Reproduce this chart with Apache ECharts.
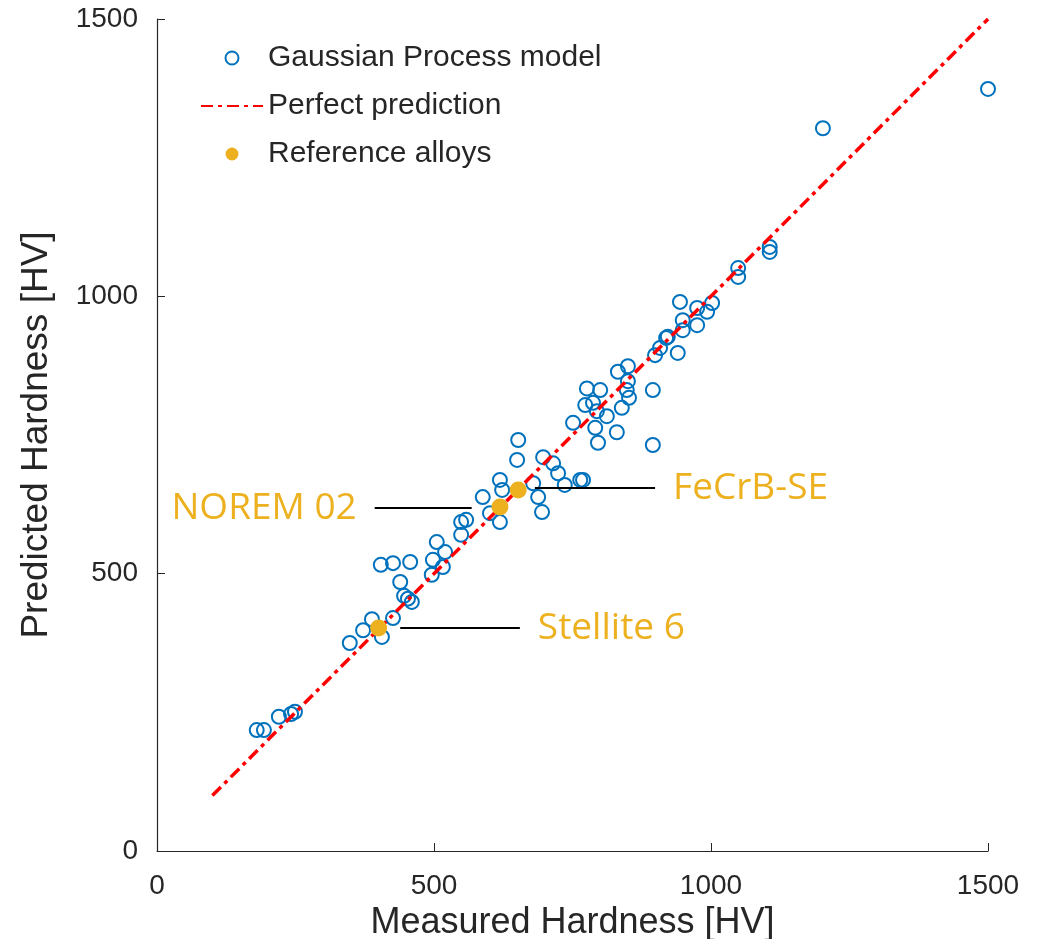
<!DOCTYPE html>
<html>
<head>
    <meta charset="utf-8">
    <title>Hardness</title>
    <script src="https://cdn.jsdelivr.net/npm/echarts@6/dist/echarts.min.js"></script>
    <style>
        html, body { margin: 0; padding: 0; background: #fff; }
    </style>
</head>
<body>
<div id="main" style="width:1047px; height:939px;"></div>

<script type="text/javascript">
    // Gaussian Process model: measured vs predicted hardness
    var measured = [180, 193, 220, 242, 249, 348, 372, 388, 406, 426,
        404, 426, 457, 439, 446, 460, 453, 498, 505, 520,
        496, 516, 549, 549, 558, 588, 601, 619, 619, 623,
        679, 688, 695, 652, 650, 697, 715, 724, 736, 764,
        769, 751, 791, 830, 796, 895, 776, 800, 895, 773,
        787, 794, 812, 839, 852, 848, 850, 850, 832, 908,
        899, 919, 922, 940, 944, 949, 949, 975, 975, 993,
        1002, 1049, 1049, 1106, 1106, 1202, 1500];
    var predicted = [218, 218, 242, 247, 251, 375, 398, 418, 386, 420,
        516, 519, 521, 485, 460, 449, 455, 525, 557, 539,
        498, 512, 570, 593, 597, 638, 609, 593, 669, 651,
        663, 638, 611, 741, 705, 710, 699, 681, 660, 669,
        669, 772, 763, 755, 736, 732, 834, 831, 831, 804,
        808, 793, 784, 799, 817, 831, 847, 874, 864, 907,
        894, 925, 927, 898, 990, 957, 939, 979, 948, 972,
        988, 1051, 1035, 1089, 1080, 1303, 1374];

    // perfect prediction line ends
    var perfectX = [100, 1500];
    var perfectY = [100, 1500];

    // reference alloys
    var refNames = ['Stellite 6', 'NOREM 02', 'FeCrB-SE'];
    var refX = [400, 619, 652];
    var refY = [402, 620, 651];

    // leader lines for the labels: x start, x end, y, label side
    var leaderX1 = [439, 393, 682];
    var leaderX2 = [655, 568, 899];
    var leaderY = [402, 618, 654];
    var leaderSide = ['end', 'start', 'end'];

    var blue = '#0072BD';
    var orange = '#EDB120';
    var ink = '#262626';

    var gpData = measured.map(function (v, i) { return [v, predicted[i]]; });
    var lineData = perfectX.map(function (v, i) { return [v, perfectY[i]]; });
    var refData = refX.map(function (v, i) { return [v, refY[i]]; });

    var leaders = refNames.map(function (name, i) {
        return [
            {coord: [leaderX1[i], leaderY[i]], label: {position: leaderSide[i], formatter: name}},
            {coord: [leaderX2[i], leaderY[i]]}
        ];
    });

    function plain(v) { return String(v); }

    var myChart = echarts.init(document.getElementById('main'));
    var option = {
        animation: false,
        textStyle: {fontFamily: 'Liberation Sans'},
        grid: {left: 157, right: 59, top: 19, bottom: 88, outerBoundsMode: 'none'},
        legend: {
            orient: 'vertical',
            left: 195,
            top: 38,
            itemWidth: 62,
            itemHeight: 13,
            itemGap: 18,
            textStyle: {fontSize: 30, color: ink, fontFamily: 'Liberation Sans'},
            data: [
                'Gaussian Process model',
                {name: 'Perfect prediction', itemStyle: {opacity: 0}},
                'Reference alloys'
            ]
        },
        xAxis: {
            type: 'value',
            min: 0, max: 1500, interval: 500,
            name: 'Measured Hardness [HV]',
            nameLocation: 'middle',
            nameGap: 54,
            nameTextStyle: {fontSize: 36, color: ink},
            axisLine: {lineStyle: {color: ink, width: 1.2}},
            axisTick: {inside: true, length: 8, lineStyle: {color: ink}},
            axisLabel: {fontSize: 28, color: ink, margin: 21, formatter: plain},
            splitLine: {show: false}
        },
        yAxis: {
            type: 'value',
            min: 0, max: 1500, interval: 500,
            name: 'Predicted Hardness [HV]',
            nameLocation: 'middle',
            nameGap: 102,
            nameTextStyle: {fontSize: 37, color: ink},
            axisLine: {show: true, lineStyle: {color: ink, width: 1.2}},
            axisTick: {show: true, inside: true, length: 8, lineStyle: {color: ink}},
            axisLabel: {fontSize: 28, color: ink, margin: 19, formatter: plain},
            splitLine: {show: false}
        },
        series: [
            {
                name: 'Gaussian Process model',
                type: 'scatter',
                symbol: 'circle',
                symbolSize: 14,
                itemStyle: {color: 'rgba(255,255,255,0)', borderColor: blue, borderWidth: 2, opacity: 1},
                data: gpData,
                z: 2
            },
            {
                name: 'Perfect prediction',
                type: 'line',
                symbol: 'none',
                lineStyle: {color: '#FF0000', width: 3.5, type: [12, 5, 4, 5]},
                itemStyle: {color: '#FF0000'},
                data: lineData,
                z: 3
            },
            {
                name: 'Reference alloys',
                type: 'scatter',
                symbolSize: 17,
                itemStyle: {color: orange, opacity: 1},
                data: refData,
                z: 4,
                markLine: {
                    silent: true,
                    symbol: ['none', 'none'],
                    lineStyle: {color: '#000', width: 2, type: 'solid'},
                    label: {
                        show: true,
                        color: orange,
                        fontSize: 37,
                        fontFamily: 'Open Sans',
                        distance: 18
                    },
                    data: leaders
                }
            }
        ]
    };
    myChart.setOption(option);
</script>
</body>
</html>
